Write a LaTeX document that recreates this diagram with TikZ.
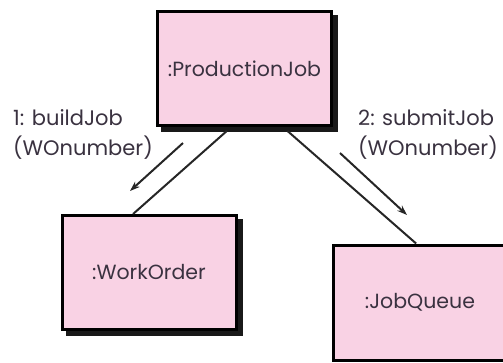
\documentclass[tikz,border=0pt]{standalone}
\usepackage{fontspec}
\setmainfont{Poppins}
\usetikzlibrary{backgrounds,arrows.meta,calc}
\definecolor{boxpink}{RGB}{249,210,228}
\definecolor{txt}{RGB}{58,50,64}
\tikzset{
  obj/.style={draw=black, line width=3pt, fill=boxpink, text=txt,
    minimum width=174pt, minimum height=114pt, inner sep=0pt,
    font=\fontsize{20.5}{24}\selectfont},
  shade/.style={fill=black!90},
  link/.style={line width=2pt, draw=black!85},
  msg/.style={line width=2pt, draw=black!85, -{Stealth[length=10pt,width=7pt]}},
  lbl/.style={text=txt, align=left, inner sep=0pt, anchor=north west,
    font=\fontsize{21}{30}\selectfont}
}
\begin{document}
\begin{tikzpicture}[x=1pt,y=-1pt]
\path[use as bounding box] (0,0) rectangle (503,362);
\node[obj] (pj) at (244.5,68.5) {:ProductionJob};
\node[obj] (wo) at (149,272.5) {:WorkOrder};
\node[obj, minimum height=115pt] (jq) at (420,302.5) {:JobQueue};
\begin{scope}[on background layer]
\foreach \n in {pj,wo} {
  \fill[shade] ([xshift=5pt,yshift=-5pt]\n.south west) rectangle ([xshift=5pt,yshift=-5pt]\n.north east);
}
\end{scope}
\draw[link] ([yshift=-4pt]$(pj.south west)!0.4!(pj.south east)$) -- ($(wo.north west)!0.41!(wo.north east)$);
\draw[link] ([yshift=-4pt]$(pj.south west)!0.743!(pj.south east)$) -- ($(jq.north west)!0.478!(jq.north east)$);
\coordinate (a1s) at (183,143);
\coordinate (a1e) at (130,191);
\coordinate (a2s) at (340,153);
\coordinate (a2e) at (407,215);
\draw[msg] (a1s) -- (a1e);
\draw[msg] (a2s) -- (a2e);
\node[lbl] (l1) at (13,109) {1: buildJob\\(WOnumber)};
\node[lbl] (l2) at (358,109) {2: submitJob\\(WOnumber)};
\end{tikzpicture}
\end{document}
